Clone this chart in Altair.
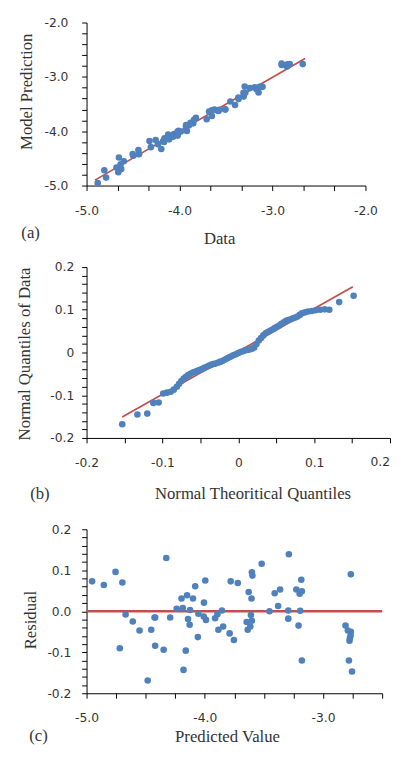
import altair as alt
import pandas as pd
import numpy as np

# ---------------- data ----------------
# Panel (a): measured data vs model prediction
a_data = [-4.880, -4.790, -4.659, -4.627, -4.678, -4.809, -4.634, -4.599, -4.498, -4.440,
          -4.435, -4.504, -4.652, -4.442, -4.196, -4.308, -4.232, -4.166, -4.178, -4.323,
          -4.257, -4.111, -4.161, -4.161, -4.122, -4.069, -4.020, -4.122, -4.060, -3.986,
          -3.921, -4.022, -4.011, -3.930, -3.900, -3.930, -3.853, -3.882, -3.844, -3.824,
          -3.708, -3.652, -3.672, -3.682, -3.582, -3.652, -3.619, -3.507, -3.510, -3.574,
          -3.625, -3.403, -3.453, -3.365, -3.367, -3.310, -3.150, -3.292, -3.312, -3.173,
          -3.242, -3.155, -3.192, -3.107, -3.299, -3.130, -2.845, -2.837, -2.838, -2.815,
          -2.848, -2.901, -2.675, -2.902, -2.826]
a_pred = [-4.953, -4.854, -4.755, -4.697, -4.670, -4.719, -4.609, -4.552, -4.453, -4.425,
          -4.420, -4.420, -4.483, -4.348, -4.326, -4.293, -4.238, -4.197, -4.186, -4.180,
          -4.161, -4.150, -4.142, -4.128, -4.125, -4.100, -4.081, -4.059, -4.054, -4.007,
          -3.996, -4.009, -3.990, -3.913, -3.893, -3.885, -3.855, -3.845, -3.790, -3.754,
          -3.781, -3.721, -3.646, -3.637, -3.629, -3.615, -3.610, -3.602, -3.597, -3.605,
          -3.602, -3.519, -3.453, -3.409, -3.380, -3.363, -3.289, -3.294, -3.294, -3.226,
          -3.207, -3.198, -3.193, -3.184, -3.179, -3.179, -2.810, -2.790, -2.773, -2.765,
          -2.776, -2.781, -2.765, -2.755, -2.767]
a_line_x = [-4.91, -2.65]
a_line_y = [-4.90, -2.66]

# Panel (b): normal Q-Q plot
b_theo = [-0.153, -0.133, -0.120, -0.112, -0.105, -0.099, -0.094, -0.089, -0.085, -0.081,
          -0.078, -0.075, -0.072, -0.069, -0.066, -0.063, -0.060, -0.057, -0.054, -0.051,
          -0.048, -0.045, -0.042, -0.039, -0.036, -0.033, -0.030, -0.027, -0.024, -0.021,
          -0.018, -0.015, -0.012, -0.009, -0.006, -0.003, 0.000, 0.003, 0.006, 0.009,
          0.012, 0.015, 0.018, 0.021, 0.024, 0.027, 0.030, 0.033, 0.036, 0.039,
          0.042, 0.045, 0.048, 0.051, 0.054, 0.057, 0.060, 0.063, 0.066, 0.069,
          0.072, 0.075, 0.078, 0.081, 0.084, 0.088, 0.092, 0.097, 0.102, 0.108,
          0.114, 0.120, 0.133, 0.152]
b_quant = [-0.168, -0.145, -0.143, -0.118, -0.117, -0.096, -0.094, -0.092, -0.087, -0.080,
           -0.073, -0.067, -0.061, -0.057, -0.053, -0.050, -0.047, -0.045, -0.043, -0.041,
           -0.039, -0.036, -0.034, -0.031, -0.029, -0.027, -0.026, -0.024, -0.022, -0.020,
           -0.017, -0.014, -0.011, -0.009, -0.006, -0.004, -0.001, 0.001, 0.003, 0.005,
           0.006, 0.007, 0.009, 0.012, 0.020, 0.028, 0.034, 0.040, 0.045, 0.048,
           0.051, 0.054, 0.057, 0.060, 0.063, 0.067, 0.071, 0.074, 0.076, 0.078,
           0.080, 0.082, 0.084, 0.088, 0.092, 0.094, 0.096, 0.097, 0.099, 0.100,
           0.101, 0.100, 0.118, 0.133]
b_line_x = [-0.153, 0.151]
b_line_y = [-0.151, 0.154]
b_end_tick = [0.2]
b_end_label = ["0.2"]

# Panel (c): residuals vs predicted value
c_pred = a_pred
c_resid = [0.073, 0.064, 0.096, 0.070, -0.008, -0.090, -0.025, -0.047, -0.045, -0.015,
           -0.015, -0.084, -0.169, -0.094, 0.130, -0.015, 0.006, 0.031, 0.008, -0.143,
           -0.096, 0.039, -0.019, -0.033, 0.003, 0.031, 0.061, -0.063, -0.006, 0.021,
           0.075, -0.013, -0.021, -0.017, -0.007, -0.045, 0.002, -0.037, -0.054, -0.070,
           0.073, 0.069, -0.026, -0.045, 0.047, -0.037, -0.009, 0.095, 0.087, 0.031,
           -0.023, 0.116, 0.000, 0.044, 0.013, 0.053, 0.139, 0.002, -0.018, 0.053,
           -0.035, 0.043, 0.001, 0.077, -0.120, 0.049, -0.035, -0.047, -0.065, -0.050,
           -0.072, -0.120, 0.090, -0.147, -0.059]
c_zero_x = [-5.0, -2.5]
c_zero_y = [0.0, 0.0]

tags = ["(a)", "(b)", "(c)"]
x_titles = ["Data", "Normal Theoritical Quantiles", "Predicted Value"]
y_titles = ["Model Prediction", "Normal Quantiles of Data", "Residual"]

# ---------------- style ----------------
BLUE = "#4f81bd"
RED = "#c0504d"
TXT = "#333333"
SERIF = "Liberation Serif"
SANS = "DejaVu Sans"
LABEL_SIZE = 12.5


def ticks(start, stop, step):
    n = int(round((stop - start) / step))
    return [round(start + i * step, 6) for i in range(n + 1)]


def make_axis(values, major, fmt, title, pad, tx, ty, angle, hide_above=None):
    cond = f"abs(datum.value/{major} - round(datum.value/{major})) < 0.001"
    if hide_above is not None:
        cond += f" && datum.value < {hide_above}"
    expr = (f"{cond} ? replace(format(round(datum.value/{major})*{major}, '{fmt}'), "
            f"'\u2212', '-') : ''")
    return alt.Axis(values=values, labelExpr=expr, title=title, grid=False,
                    domainColor="black", domainWidth=1, tickColor="black", tickSize=5,
                    labelPadding=pad, labelFont=SANS, labelFontSize=LABEL_SIZE, labelColor=TXT,
                    labelOverlap=False, labelFlush=False,
                    titleFont=SERIF, titleFontSize=17, titleFontWeight="normal",
                    titleColor=TXT, titleX=tx, titleY=ty, titleAlign="center",
                    titleBaseline="middle", titleAngle=angle)


def panel(df_pts, df_line, xenc, yenc, tag, tag_x, tag_y, anc_x, anc_y1, anc_y2,
          w, h, lw, extra=()):
    line = alt.Chart(df_line).mark_line(color=RED, strokeWidth=lw).encode(x=xenc, y=yenc)
    pts = alt.Chart(df_pts).mark_circle(size=45, color=BLUE, opacity=1).encode(x=xenc, y=yenc)
    one = pd.DataFrame({"t": [tag]})
    txt = alt.Chart(one).mark_text(font=SERIF, fontSize=17, color=TXT, align="center",
                                   baseline="middle").encode(
        x=alt.value(tag_x), y=alt.value(tag_y), text="t:N")
    anchor = alt.Chart(one).mark_rule(opacity=0, strokeOpacity=0).encode(
        x=alt.value(anc_x), y=alt.value(anc_y1), y2=alt.value(anc_y2))
    return alt.layer(line, pts, txt, anchor, *extra).properties(width=w, height=h)


# Panel (a)
xa = alt.X("x:Q", scale=alt.Scale(domain=[-5, -2], nice=False, zero=False),
           axis=make_axis(ticks(-5, -2, 1 / 3), 1, ".1f", x_titles[0], 14, 135, 54, 0))
ya = alt.Y("y:Q", scale=alt.Scale(domain=[-5, -2], nice=False, zero=False),
           axis=make_axis(ticks(-5, -2, 0.2), 1, ".1f", y_titles[0], 14, -61, 70, 270))
pa = panel(pd.DataFrame({"x": a_data, "y": a_pred}),
           pd.DataFrame({"x": a_line_x, "y": a_line_y}),
           xa, ya, tags[0], -57, 214, -80, -8, 233, 284, 166, 1.75)

# Panel (b)
xb = alt.X("x:Q", scale=alt.Scale(domain=[-0.2, 0.2], nice=False, zero=False),
           axis=make_axis(ticks(-0.2, 0.2, 0.05), 0.1, ".1~f", x_titles[1], 14, 169, 57, 0,
                          hide_above=0.199))
yb = alt.Y("y:Q", scale=alt.Scale(domain=[-0.2, 0.2], nice=False, zero=False),
           axis=make_axis(ticks(-0.2, 0.2, 0.02), 0.1, ".1~f", y_titles[1], 8, -63, 88, 270))
# last x tick label kept inside the page (the original is cut by the page edge)
b_end = alt.Chart(pd.DataFrame({"x": b_end_tick, "lab": b_end_label})).mark_text(
    font=SANS, fontSize=LABEL_SIZE, color=TXT, align="right", baseline="top").encode(
    x=xb, y=alt.value(174 + 19), text="lab:N")
pb = panel(pd.DataFrame({"x": b_theo, "y": b_quant}),
           pd.DataFrame({"x": b_line_x, "y": b_line_y}),
           xb, yb, tags[1], -47.5, 231, -73, -16, 251, 309, 174, 1.75, extra=(b_end,))

# Panel (c)
xc = alt.X("x:Q", scale=alt.Scale(domain=[-5, -2.5], nice=False, zero=False),
           axis=make_axis(ticks(-5, -2.5, 0.25), 1, ".1f", x_titles[2], 14, 143, 44, 0))
yc = alt.Y("y:Q", scale=alt.Scale(domain=[-0.2, 0.2], nice=False, zero=False),
           axis=make_axis(ticks(-0.2, 0.2, 0.02), 0.1, ".1f", y_titles[2], 11, -57, 92, 270))
pc = panel(pd.DataFrame({"x": c_pred, "y": c_resid}),
           pd.DataFrame({"x": c_zero_x, "y": c_zero_y}),
           xc, yc, tags[2], -49, 211, -79, -16, 220, 301, 167, 2.5)

chart = alt.vconcat(pa, pb, pc, spacing=0).properties(
    padding={"left": 0, "top": 0, "right": 0, "bottom": 0}).configure_view(strokeWidth=0)

chart.save("out.html", embed_options={"renderer": "svg", "actions": False})
